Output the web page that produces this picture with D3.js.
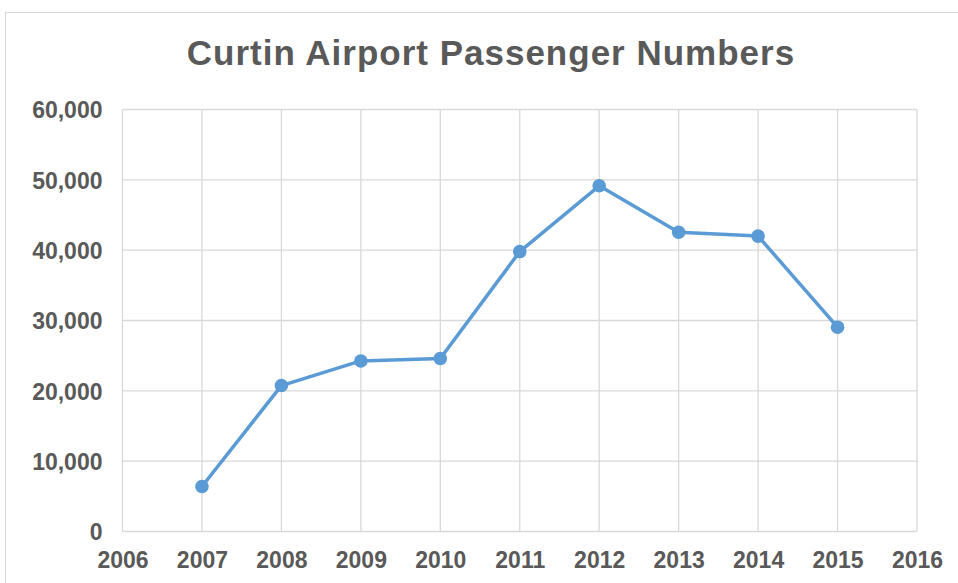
<!DOCTYPE html>
<html>
<head>
<meta charset="utf-8">
<script src="https://cdn.jsdelivr.net/npm/d3@7"></script>
<style>
  body { margin: 0; background: #fff; }
  text { font-family: "Liberation Sans", Arial, sans-serif; }
</style>
</head>
<body>
<div id="chart"></div>
<script>
// values
var years = [2007, 2008, 2009, 2010, 2011, 2012, 2013, 2014, 2015];
var passengers = [6400, 20750, 24250, 24600, 39800, 49150, 42550, 42000, 29050];
var xTicks = [2006, 2007, 2008, 2009, 2010, 2011, 2012, 2013, 2014, 2015, 2016];
var yTicks = [0, 10000, 20000, 30000, 40000, 50000, 60000];
var title = 'Curtin Airport Passenger Numbers';

var width = 958, height = 583;
var margin = {top: 109.5, right: 41, bottom: 51.5, left: 122.5};

var svg = d3.select('#chart').append('svg')
  .attr('width', width)
  .attr('height', height);

// outer chart frame
svg.append('rect')
  .attr('x', 5.5).attr('y', 12.5)
  .attr('width', 970).attr('height', 600)
  .attr('fill', '#fff')
  .attr('stroke', '#d9d9d9');

var x = d3.scaleLinear()
  .domain([2006, 2016])
  .range([margin.left, width - margin.right]);

var y = d3.scaleLinear()
  .domain([0, 60000])
  .range([height - margin.bottom, margin.top]);

// gridlines
svg.append('g')
  .selectAll('line.h')
  .data(yTicks)
  .enter().append('line')
  .attr('x1', x(2006)).attr('x2', x(2016))
  .attr('y1', function(d) { return y(d); })
  .attr('y2', function(d) { return y(d); })
  .attr('stroke', '#d9d9d9')
  .attr('stroke-width', 1.3);

svg.append('g')
  .selectAll('line.v')
  .data(xTicks)
  .enter().append('line')
  .attr('y1', y(0)).attr('y2', y(60000))
  .attr('x1', function(d) { return x(d); })
  .attr('x2', function(d) { return x(d); })
  .attr('stroke', '#d9d9d9')
  .attr('stroke-width', 1.3);

// axes (labels only, Excel style)
var yAxis = svg.append('g')
  .attr('transform', 'translate(' + (margin.left - 20) + ',0)')
  .call(d3.axisLeft(y).tickValues(yTicks).tickFormat(d3.format(',')).tickSize(0).tickPadding(0));
yAxis.select('.domain').remove();
yAxis.selectAll('text')
  .attr('fill', '#595959')
  .attr('font-size', 23)
  .attr('font-weight', 'bold')
  .attr('dy', '0.36em');

var xAxis = svg.append('g')
  .attr('transform', 'translate(0,' + y(0) + ')')
  .call(d3.axisBottom(x).tickValues(xTicks).tickFormat(d3.format('d')).tickSize(0).tickPadding(0));
xAxis.select('.domain').remove();
xAxis.selectAll('text')
  .attr('fill', '#595959')
  .attr('font-size', 23)
  .attr('font-weight', 'bold')
  .attr('dy', 0)
  .attr('y', 36.5);

// title
svg.append('text')
  .attr('x', 491)
  .attr('y', 65)
  .attr('text-anchor', 'middle')
  .attr('fill', '#595959')
  .attr('font-size', 35)
  .attr('font-weight', 'bold')
  .attr('letter-spacing', 1)
  .text(title);

var data = years.map(function(yr, i) { return {year: yr, value: passengers[i]}; });

var line = d3.line()
  .x(function(d) { return x(d.year); })
  .y(function(d) { return y(d.value); });

svg.append('path')
  .datum(data)
  .attr('d', line)
  .attr('fill', 'none')
  .attr('stroke', '#5b9bd5')
  .attr('stroke-width', 3.5)
  .attr('stroke-linejoin', 'round');

svg.append('g')
  .selectAll('circle')
  .data(data)
  .enter().append('circle')
  .attr('cx', function(d) { return x(d.year); })
  .attr('cy', function(d) { return y(d.value); })
  .attr('r', 6.8)
  .attr('fill', '#5b9bd5');
</script>
</body>
</html>
